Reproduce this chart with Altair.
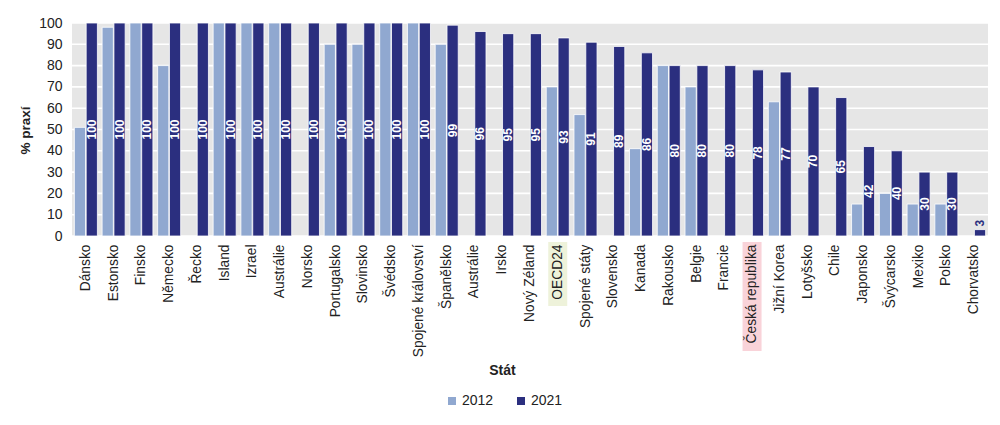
import altair as alt
import pandas as pd

# ---- data ----
countries = ["Dánsko", "Estonsko", "Finsko", "Německo", "Řecko", "Island", "Izrael",
             "Austrálie", "Norsko", "Portugalsko", "Slovinsko", "Švédsko",
             "Spojené království", "Španělsko", "Austrálie ", "Irsko", "Nový Zéland",
             "OECD24", "Spojené státy", "Slovensko", "Kanada", "Rakousko", "Belgie",
             "Francie", "Česká republika", "Jižní Korea", "Lotyšsko", "Chile",
             "Japonsko", "Švýcarsko", "Mexiko", "Polsko", "Chorvatsko"]
v2012 = [51, 98, 100, 80, None, 100, 100, 100, None, 90, 90, 100, 100, 90, None, None, None,
         70, 57, None, 41, 80, 70, None, None, 63, None, None, 15, 20, 15, 15, None]
v2021 = [100, 100, 100, 100, 100, 100, 100, 100, 100, 100, 100, 100, 100, 99, 96, 95, 95,
         93, 91, 89, 86, 80, 80, 80, 78, 77, 70, 65, 42, 40, 30, 30, 3]
years = ["2012", "2021"]
colors = ["#90a8d0", "#2b2f7f"]
y_ticks = list(range(0, 101, 10))

# highlighted axis labels (style only)
highlight_names = ["OECD24", "Česká republika"]
highlight_colors = ["#eef2da", "#f9d3d9"]
highlight_len = [64, 109]

rows = []
for c, a, b in zip(countries, v2012, v2021):
    rows.append({"stat": c, "rok": "2012", "v": a})
    rows.append({"stat": c, "rok": "2021", "v": b})
df = pd.DataFrame(rows)

W, H = 916, 213
FONT = "Liberation Sans"

xaxis = alt.Axis(title="Stát", labelAngle=270, labelAlign="right",
                 labelBaseline="middle", labelPadding=8, ticks=False,
                 domain=False, labelFontSize=13.8, labelColor="#222222",
                 labelFont=FONT, titleFont=FONT, titleFontSize=14,
                 titleFontWeight="bold", titleColor="#222222",
                 titleX=430, titleY=134, titleBaseline="middle",
                 zindex=1, grid=False, labelLimit=200)
yaxis = alt.Axis(title="% praxí", values=y_ticks, grid=False, labelOverlap=False,
                 ticks=False, domain=False,
                 labelPadding=10, labelFontSize=14, labelColor="#222222",
                 labelFont=FONT, titleFont=FONT, titleFontSize=13.5,
                 titleFontWeight="bold", titleColor="#222222",
                 titleAngle=270, titleX=-47, titleY=107,
                 titleAlign="center", titleBaseline="middle")
xscale = alt.Scale(paddingInner=0.17, paddingOuter=0.085)
yscale = alt.Scale(domain=[0, 100])

def X():
    return alt.X("stat:N", sort=countries, scale=xscale, axis=xaxis, title="Stát")

def Y(field):
    return alt.Y(field, scale=yscale, axis=yaxis, title="% praxí")

xoff = alt.XOffset("rok:N", scale=alt.Scale(domain=years, paddingInner=0.05))

base = alt.Chart(df)

grid = alt.Chart(pd.DataFrame({"t": y_ticks})).mark_rule(
    color="white", strokeWidth=1.6).encode(y=Y("t:Q"))

bars = base.mark_bar(stroke="white", strokeWidth=0.8).encode(
    x=X(),
    xOffset=xoff,
    y=Y("v:Q"),
    color=alt.Color("rok:N", scale=alt.Scale(domain=years, range=colors),
                    legend=alt.Legend(title=None, orient="none", legendX=373, legendY=371,
                                      direction="horizontal", symbolType="square",
                                      symbolSize=64, labelFontSize=14, labelFont=FONT,
                                      labelColor="#222222", columnPadding=20,
                                      symbolStrokeWidth=0, labelOffset=3)),
)

lab_in = base.transform_filter("datum.rok == '2021' && datum.v >= 10").transform_calculate(
    mid="datum.v / 2").mark_text(
    angle=270, align="center", baseline="middle", color="white", fontWeight="bold",
    fontSize=12, font=FONT).encode(
    x=X(), xOffset=xoff, y=Y("mid:Q"), text="v:Q")

lab_out = base.transform_filter("datum.rok == '2021' && datum.v < 10").mark_text(
    angle=270, align="left", baseline="middle", color="#2b2f7f", fontWeight="bold",
    fontSize=12, font=FONT, dx=3).encode(
    x=X(), xOffset=xoff, y=Y("v:Q"), text="v:Q")

hls = []
for name, col, ln in zip(highlight_names, highlight_colors, highlight_len):
    hls.append(
        alt.Chart(pd.DataFrame({"stat": [name]})).mark_bar(
            width=19, clip=False, color=col).encode(
            x=X(),
            y=alt.value(H + 6),
            y2=alt.value(H + 6 + ln),
        )
    )

chart = alt.layer(grid, bars, lab_in, lab_out, *hls).properties(
    width=W, height=H,
    autosize=alt.AutoSizeParams(type="none"),
    padding={"left": 64, "top": 15, "right": 4, "bottom": 175},
).configure_view(fill="#e6e6e6", stroke=None)

chart.save("out.html", embed_options={"renderer": "svg", "actions": False})
